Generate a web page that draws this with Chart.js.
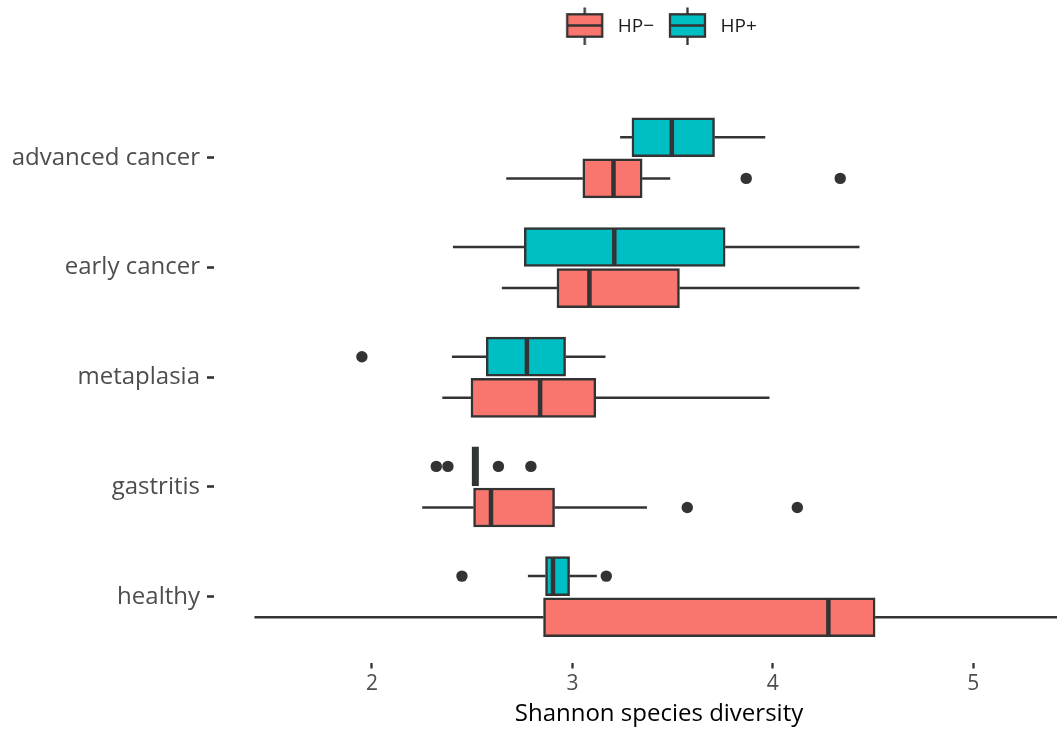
<!DOCTYPE html>
<html><head><meta charset="utf-8">
<script src="https://cdn.jsdelivr.net/npm/chart.js@4.4.1/dist/chart.umd.min.js"></script>
<style>html,body{margin:0;padding:0;overflow:hidden;background:#fff}canvas{display:block}</style>
</head><body>
<canvas id="c" width="1110" height="730"></canvas>
<script>
// Categories, top to bottom
const CATEGORIES = ['advanced cancer', 'early cancer', 'metaplasia', 'gastritis', 'healthy'];
const SERIES = ['HP\u2212', 'HP+'];
const X_TICKS = [2, 3, 4, 5];

// HP− box statistics (per category, top to bottom)
const HPNEG_MIN = [2.670, 2.648, 2.351, 2.251, 1.414];
const HPNEG_Q1  = [3.052, 2.923, 2.494, 2.507, 2.856];
const HPNEG_MED = [3.205, 3.085, 2.839, 2.594, 4.277];
const HPNEG_Q3  = [3.348, 3.534, 3.117, 2.911, 4.510];
const HPNEG_MAX = [3.488, 4.432, 3.983, 3.372, 5.450];
const HPNEG_OUT = [[3.867, 4.336], [], [], [3.573, 4.122], []];

// HP+ box statistics
const HPPOS_MIN = [3.238, 2.404, 2.399, 2.499, 2.778];
const HPPOS_Q1  = [3.297, 2.760, 2.570, 2.499, 2.866];
const HPPOS_MED = [3.496, 3.209, 2.773, 2.512, 2.903];
const HPPOS_Q3  = [3.709, 3.762, 2.966, 2.532, 2.986];
const HPPOS_MAX = [3.962, 4.432, 3.165, 2.532, 3.122];
const HPPOS_OUT = [[], [], [1.950], [2.321, 2.379, 2.631, 2.793], [2.449, 3.169]];

const STATS = [
  {min: HPNEG_MIN, q1: HPNEG_Q1, med: HPNEG_MED, q3: HPNEG_Q3, max: HPNEG_MAX, out: HPNEG_OUT},
  {min: HPPOS_MIN, q1: HPPOS_Q1, med: HPPOS_MED, q3: HPPOS_Q3, max: HPPOS_MAX, out: HPPOS_OUT}
];
const COLORS = ['#F8766D', '#00BFC4'];
const DODGE = [-0.1875, 0.1875];
const BOX_HALF = 0.168;
const INK = '#333333';
const N = CATEGORIES.length;
const pos = (i, s) => (N - i) + DODGE[s];

// x range with 5% expansion of the data range
let lo = Infinity, hi = -Infinity;
STATS.forEach(st => { st.min.forEach(v => lo = Math.min(lo, v)); st.max.forEach(v => hi = Math.max(hi, v));
  st.out.forEach(a => a.forEach(v => { lo = Math.min(lo, v); hi = Math.max(hi, v); })); });
const X_MIN = lo - 0.05 * (hi - lo), X_MAX = hi + 0.05 * (hi - lo);

function makeKey(fill) {
  const c = document.createElement('canvas'); c.width = 47; c.height = 44;
  const g = c.getContext('2d');
  g.strokeStyle = INK; g.lineWidth = 2.3;
  g.beginPath(); g.moveTo(23.5, 1); g.lineTo(23.5, 40); g.stroke();
  g.fillStyle = fill; g.fillRect(6, 9.3, 35, 22.4); g.strokeRect(6, 9.3, 35, 22.4);
  g.lineWidth = 2.6; g.beginPath(); g.moveTo(6, 20.5); g.lineTo(41, 20.5); g.stroke();
  return c;
}
const KEYS = COLORS.map(makeKey);

const datasets = [];
// boxes
STATS.forEach((st, s) => {
  datasets.push({
    type: 'bar', label: SERIES[s], indexAxis: 'y', grouped: false, xAxisID: 'x', yAxisID: 'y',
    data: CATEGORIES.map((c, i) => ({x: [st.q1[i], st.q3[i]], y: pos(i, s)})),
    backgroundColor: COLORS[s], borderColor: INK, borderWidth: 2.5, borderSkipped: false,
    barThickness: 39, order: 2, pointStyle: KEYS[s]
  });
});
// whiskers, medians, outliers
STATS.forEach((st, s) => {
  CATEGORIES.forEach((c, i) => {
    const y = pos(i, s);
    const line = {type: 'scatter', showLine: true, xAxisID: 'x', yAxisID: 'y', pointRadius: 0,
      borderColor: INK, borderWidth: 2.5, borderCapStyle: 'butt', order: 3};
    datasets.push(Object.assign({}, line, {data: [{x: st.min[i], y}, {x: st.q1[i], y}]}));
    datasets.push(Object.assign({}, line, {data: [{x: st.q3[i], y}, {x: st.max[i], y}]}));
    datasets.push(Object.assign({}, line, {borderWidth: 4.5, order: 0,
      data: [{x: st.med[i], y: y - BOX_HALF}, {x: st.med[i], y: y + BOX_HALF}]}));
    if (st.out[i].length) {
      datasets.push({type: 'scatter', xAxisID: 'x', yAxisID: 'y', order: 0,
        data: st.out[i].map(v => ({x: v, y})), pointRadius: 5.7, backgroundColor: INK, borderWidth: 0});
    }
  });
});

Chart.defaults.font.family = "'Open Sans', 'Noto Sans', sans-serif";

new Chart(document.getElementById('c'), {
  type: 'scatter',
  data: {datasets},
  options: {
    responsive: false, animation: false, events: [],
    layout: {padding: {top: 7.5, right: 6, left: 0, bottom: 0}},
    plugins: {
      tooltip: {enabled: false},
      legend: {
        display: true, position: 'top', fullSize: false,
        labels: {
          usePointStyle: true, pointStyleWidth: 47, padding: 10, color: '#1A1A1A', font: {size: 19},
          generateLabels: chart => Chart.defaults.plugins.legend.labels.generateLabels(chart)
            .filter(it => it.datasetIndex < 2)
            .map(it => Object.assign(it, {pointStyle: KEYS[it.datasetIndex]}))
        }
      }
    },
    scales: {
      x: {
        type: 'linear', position: 'bottom', min: X_MIN, max: X_MAX, beginAtZero: false, offset: false,
        afterBuildTicks: sc => { sc.ticks = X_TICKS.map(v => ({value: v})); },
        afterFit: sc => { sc.height = 67.5; },
        ticks: {color: '#4D4D4D', font: {size: 21}, padding: 3, autoSkip: false, maxRotation: 0},
        grid: {display: true, drawOnChartArea: false, drawTicks: true, tickLength: 6, tickColor: INK, tickWidth: 2.3, offset: false},
        border: {display: false},
        title: {display: true, text: 'Shannon species diversity', color: '#000000', font: {size: 24}, padding: {top: 0, bottom: 1}}
      },
      y: {
        type: 'linear', position: 'left', min: 0.4, max: N + 0.6, offset: false, beginAtZero: false,
        afterBuildTicks: sc => { sc.ticks = CATEGORIES.map((c, i) => ({value: N - i})); },
        afterFit: sc => { sc.width = 214; },
        ticks: {callback: v => CATEGORIES[N - v], color: '#4D4D4D', font: {size: 24}, padding: 7, autoSkip: false},
        grid: {display: true, drawOnChartArea: false, drawTicks: true, tickLength: 7, tickColor: INK, tickWidth: 2.6, offset: false},
        border: {display: false}
      },
      xTop: {
        type: 'linear', position: 'top', display: true,
        afterFit: sc => { sc.height = 45.5; },
        ticks: {display: false}, grid: {display: false}, border: {display: false}
      }
    }
  }
});
</script>
</body></html>
